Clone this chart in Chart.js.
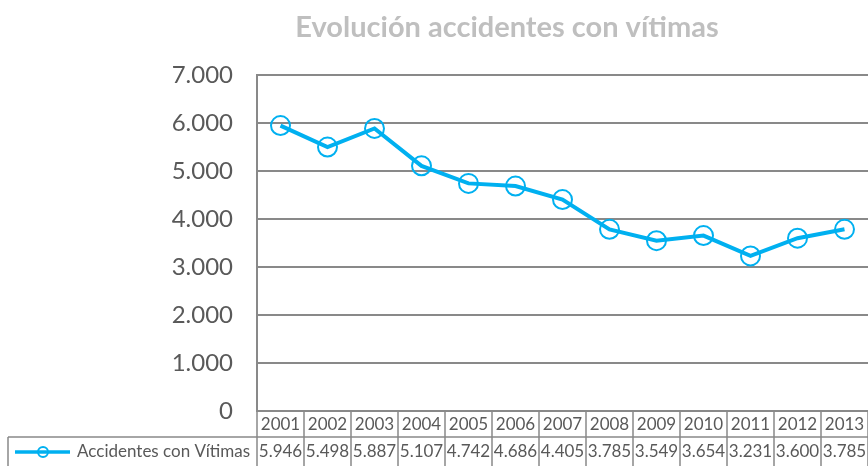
<!DOCTYPE html>
<html>
<head>
<meta charset="utf-8">
<script src="https://cdn.jsdelivr.net/npm/chart.js@4/dist/chart.umd.min.js"></script>
<style>
  html, body { margin: 0; padding: 0; background: #fff; overflow: hidden; }
  #wrap { width: 868px; height: 466px; position: relative; }
  canvas { display: block; }
</style>
</head>
<body>
<div id="wrap"><canvas id="myChart"></canvas></div>
<script>
// data (also printed in the table under the chart)
const years = ['2001','2002','2003','2004','2005','2006','2007','2008','2009','2010','2011','2012','2013'];
const accidentes = [5946, 5498, 5887, 5107, 4742, 4686, 4405, 3785, 3549, 3654, 3231, 3600, 3785];
const yTicks = [0, 1000, 2000, 3000, 4000, 5000, 6000, 7000];
const seriesName = 'Accidentes con Vítimas';
const chartTitle = 'Evolución accidentes con vítimas';

const blue = '#00b0f0';
const gray = '#898989';
const textGray = '#595959';

//thousands with a dot, like the spanish excel sheet
function fmt(v) {
    return String(v).replace(/\B(?=(\d{3})+(?!\d))/g, '.');
}

// draws the title and the excel style data table under the plot
const tablePlugin = {
    id: 'dataTable',
    afterDraw(chart) {
        const ctx = chart.ctx;
        const area = chart.chartArea;
        const x = chart.scales.x;
        const n = years.length;
        const w = area.width / n;
        const top = area.bottom;
        const mid = top + 26;
        const bottom = chart.height;

        ctx.save();

        // title
        ctx.fillStyle = '#bfbfbf';
        ctx.font = 'bold 29px Lato';
        ctx.textAlign = 'center';
        ctx.textBaseline = 'middle';
        ctx.fillText(chartTitle, 507, 28);

        // table lines
        ctx.strokeStyle = gray;
        ctx.lineWidth = 1.5;
        ctx.beginPath();
        for (let i = 0; i <= n; i++) {
            const bx = Math.round(area.left + i * w);
            ctx.moveTo(bx, top);
            ctx.lineTo(bx, bottom);
        }
        ctx.moveTo(8, mid);
        ctx.lineTo(area.right, mid);
        ctx.moveTo(8, mid);
        ctx.lineTo(8, bottom);
        ctx.stroke();

        // years and values
        ctx.fillStyle = textGray;
        ctx.font = '17px Lato';
        years.forEach((y, i) => {
            const cx = x.getPixelForValue(i);
            ctx.fillText(y, cx, top + 14);
            ctx.fillText(fmt(accidentes[i]), cx, mid + 15);
        });

        // legend key in the row header
        const ly = mid + 15;
        ctx.strokeStyle = blue;
        ctx.lineWidth = 3.5;
        ctx.beginPath();
        ctx.moveTo(15, ly);
        ctx.lineTo(70, ly);
        ctx.stroke();
        ctx.lineWidth = 2;
        ctx.beginPath();
        ctx.arc(43, ly, 5, 0, Math.PI * 2);
        ctx.stroke();
        ctx.textAlign = 'right';
        ctx.fillText(seriesName, 250, ly);

        ctx.restore();
    }
};

const data = {
    labels: years,
    datasets: [{
        label: seriesName,
        data: accidentes,
        borderColor: blue,
        borderWidth: 4,
        backgroundColor: 'rgba(0,0,0,0)',
        pointRadius: 9.5,
        pointHoverRadius: 9.5,
        pointBorderWidth: 2,
        pointBorderColor: blue,
        pointBackgroundColor: 'rgba(0,0,0,0)',
        tension: 0,
        clip: false
    }]
};

const config = {
    type: 'line',
    data: data,
    options: {
        responsive: true,
        maintainAspectRatio: false,
        animation: false,
        layout: { autoPadding: false, padding: { top: 75, bottom: 55, left: 0, right: 0 } },
        plugins: {
            legend: { display: false },
            title: { display: false },
            tooltip: { enabled: false }
        },
        scales: {
            x: {
                display: false,
                offset: true
            },
            y: {
                min: 0,
                max: 7000,
                afterFit(scale) { scale.width = 257; },
                afterBuildTicks(scale) { scale.ticks = yTicks.map(v => ({ value: v })); },
                ticks: {
                    padding: 24,
                    color: textGray,
                    font: { family: 'Lato', size: 24 },
                    callback: v => fmt(v)
                },
                grid: { color: gray, lineWidth: 2, drawTicks: false },
                border: { display: true, color: gray, width: 2 }
            }
        }
    },
    plugins: [tablePlugin]
};

let myChart = new Chart(document.getElementById('myChart'), config);
</script>
</body>
</html>
